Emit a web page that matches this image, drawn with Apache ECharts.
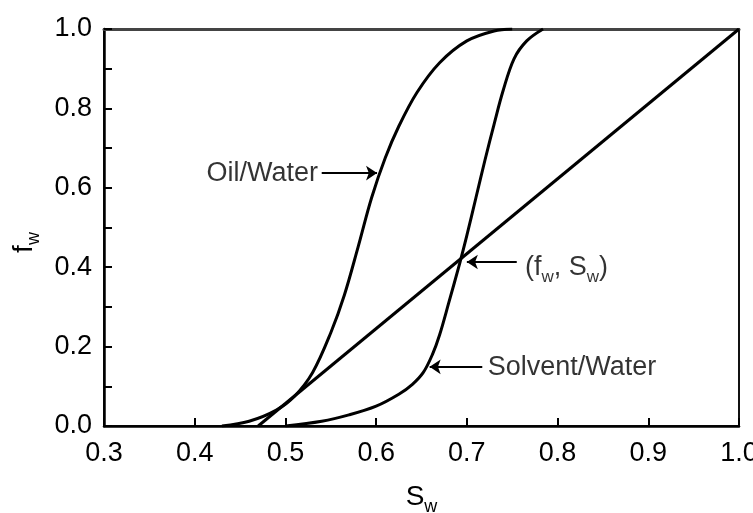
<!DOCTYPE html>
<html>
<head>
<meta charset="utf-8">
<script src="https://cdn.jsdelivr.net/npm/echarts@6/dist/echarts.min.js"></script>
<style>
  html, body { margin: 0; padding: 0; background: #fff; }
  #chart { width: 753px; height: 513px; }
</style>
</head>
<body>
<div id="chart"></div>
<script>
// Fractional flow curves: water saturation Sw vs. fractional flow fw
var oilSw = [0.43, 0.46, 0.49, 0.51, 0.53, 0.55, 0.565, 0.58, 0.595, 0.61, 0.625, 0.645, 0.67, 0.70, 0.73, 0.75];
var oilFw = [0.0, 0.012, 0.04, 0.075, 0.135, 0.235, 0.33, 0.45, 0.575, 0.675, 0.755, 0.84, 0.915, 0.97, 0.995, 1.0];

var solventSw = [0.50, 0.54, 0.57, 0.60, 0.625, 0.64, 0.652, 0.662, 0.67, 0.68, 0.6925, 0.70, 0.71, 0.72, 0.73, 0.74, 0.752, 0.766, 0.784];
var solventFw = [0.0, 0.012, 0.028, 0.05, 0.08, 0.105, 0.135, 0.18, 0.23, 0.31, 0.413, 0.48, 0.575, 0.67, 0.76, 0.845, 0.925, 0.97, 1.0];

// Straight line through (1, 1) crossing the solvent curve
var tangentSw = [0.47, 1.0];
var tangentFw = [0.0, 1.0];

var xTicks = [0.3, 0.4, 0.5, 0.6, 0.7, 0.8, 0.9, 1.0];
var yTickLabels = ['0.0', '0.2', '0.4', '0.6', '0.8', '1.0'];

// Annotation labels and arrows (data coordinates)
var labelTexts = ['Oil/Water', '(f{s|w}, S{s|w})', 'Solvent/Water'];
var labelPos = [[0.536, 0.637], [0.764, 0.398], [0.723, 0.146]];
var labelSide = ['left', 'right', 'right'];
var arrowFrom = [[0.540, 0.637], [0.755, 0.413], [0.717, 0.149]];
var arrowTo = [[0.601, 0.637], [0.700, 0.413], [0.659, 0.149]];

function pairs(xs, ys) {
  return xs.map(function (x, i) { return [x, ys[i]]; });
}

var FONT = "'Liberation Sans', Arial, Helvetica, sans-serif";
var subStyle = { fontSize: 18, fontFamily: FONT, color: '#000', verticalAlign: 'bottom', lineHeight: 38 };

var chart = echarts.init(document.getElementById('chart'), null, { renderer: 'canvas' });

var curveLine = { color: '#000', width: 3 };

chart.setOption({
  animation: false,
  backgroundColor: '#fff',
  grid: {
    left: 104, right: 14, top: 29, bottom: 87,
    containLabel: false, outerBoundsMode: 'none',
    show: true, borderColor: '#111', borderWidth: 2
  },
  xAxis: [{
    type: 'value', min: 0.3, max: 1.0, interval: 0.1,
    name: 'S{s|w}', nameLocation: 'middle', nameGap: 52,
    nameTextStyle: { fontSize: 28, fontFamily: FONT, color: '#000', rich: { s: subStyle } },
    axisLine: { show: true, lineStyle: { color: '#000', width: 2.5 } },
    axisTick: { show: true, inside: true, length: 8, lineStyle: { color: '#000', width: 2 } },
    axisLabel: {
      margin: 14, fontSize: 27, fontFamily: FONT, color: '#000',
      formatter: function (v) {
        var r = Math.round(v * 10) / 10;
        return xTicks.indexOf(r) >= 0 ? r.toFixed(1) : '';
      }
    },
    splitLine: { show: false }
  }, {
    type: 'value', position: 'top', min: 0.3, max: 1.0,
    axisLine: { show: true, lineStyle: { color: '#444', width: 3 } },
    axisTick: { show: false }, axisLabel: { show: false }, splitLine: { show: false }
  }],
  yAxis: {
    type: 'value', min: 0, max: 1.0, interval: 0.1,
    name: 'f{s|w}', nameLocation: 'middle', nameGap: 61, nameRotate: 90,
    nameTextStyle: { fontSize: 28, fontFamily: FONT, color: '#000', rich: { s: subStyle }, padding: [0, 30, 0, 0] },
    axisLine: { show: true, lineStyle: { color: '#000', width: 2.5 } },
    axisTick: { show: true, inside: true, length: 8, lineStyle: { color: '#000', width: 2 } },
    axisLabel: {
      margin: 12, fontSize: 27, fontFamily: FONT, color: '#000',
      formatter: function (v) {
        var s = (Math.round(v * 10) / 10).toFixed(1);
        return yTickLabels.indexOf(s) >= 0 ? s : '';
      }
    },
    splitLine: { show: false }
  },
  series: [
    {
      name: 'Oil/Water', type: 'line', data: pairs(oilSw, oilFw),
      smooth: 0.35, showSymbol: false, lineStyle: curveLine
    },
    {
      name: 'Solvent/Water', type: 'line', data: pairs(solventSw, solventFw),
      smooth: 0.35, showSymbol: false, lineStyle: curveLine
    },
    {
      name: 'Tangent', type: 'line', data: pairs(tangentSw, tangentFw),
      showSymbol: false, lineStyle: curveLine,
      markLine: {
        silent: true, symbol: ['none', 'arrow'], symbolSize: 11,
        label: { show: false },
        lineStyle: { color: '#000', width: 2, type: 'solid' },
        emphasis: { disabled: true },
        data: arrowFrom.map(function (p, i) {
          return [{ coord: p }, { coord: arrowTo[i] }];
        })
      }
    },
    {
      name: 'Labels', type: 'scatter', symbolSize: 0, silent: true,
      data: labelPos.map(function (p, i) {
        return {
          value: p,
          label: {
            show: true, position: labelSide[i], distance: 0,
            formatter: labelTexts[i],
            fontSize: 27, fontFamily: FONT, color: '#000',
            rich: { s: { fontSize: 17, fontFamily: FONT, color: '#000', verticalAlign: 'bottom', lineHeight: 36 } }
          }
        };
      })
    }
  ]
});
</script>
</body>
</html>
